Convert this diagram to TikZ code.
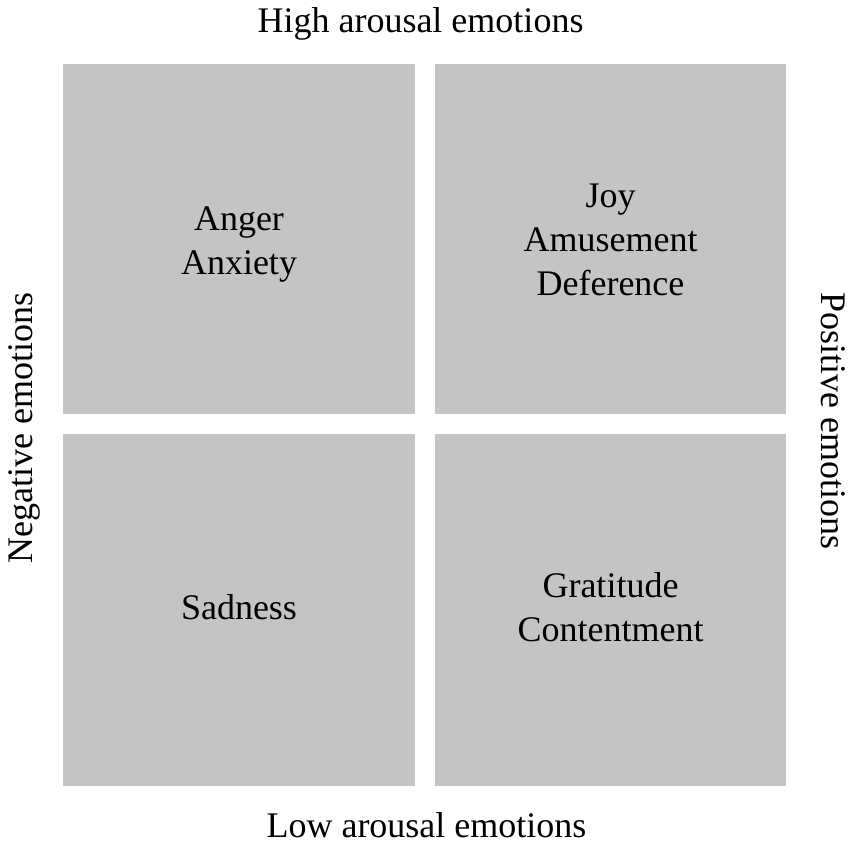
\documentclass[tikz,border=0pt]{standalone}
\usepackage{fontspec}
\setmainfont{Liberation Serif}
\definecolor{boxgray}{RGB}{196,196,196}
\tikzset{
  quad/.style={fill=boxgray, draw=none},
  lbl/.style={font=\fontsize{36}{44}\selectfont, align=center, inner sep=0pt},
}
\begin{document}
\begin{tikzpicture}[x=1pt,y=-1pt]
\useasboundingbox[fill=white] (0,0) rectangle (851,851);
\fill[quad] (63,64) rectangle (415,414);
\fill[quad] (435,64) rectangle (786,414);
\fill[quad] (63,434) rectangle (415,786);
\fill[quad] (435,434) rectangle (786,786);
\node[lbl, anchor=base] (high) at (420.5,33) {High arousal emotions};
\node[lbl, anchor=base] (low) at (426.5,837) {Low arousal emotions};
\node[lbl, anchor=base, rotate=90] (neg) at (32,428) {Negative emotions};
\node[lbl, anchor=base, rotate=-90] (pos) at (821,421) {Positive emotions};
\node[lbl] (tl) at (239,244) {Anger\\Anxiety};
\node[lbl] (tr) at (610.5,240) {Joy\\Amusement\\Deference};
\node[lbl] (bl) at (239,607) {Sadness};
\node[lbl] (br) at (610.5,607) {Gratitude\\Contentment};
\end{tikzpicture}
\end{document}
